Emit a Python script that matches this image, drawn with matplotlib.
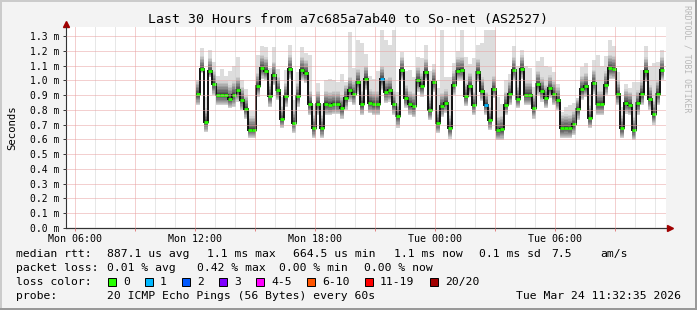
import matplotlib
matplotlib.use('Agg')
import matplotlib.pyplot as plt
from matplotlib.patches import Rectangle
import numpy as np

plt.rcParams['font.family'] = 'DejaVu Sans Mono'

W, H = 697, 310

# time axis in hours since Mon 00:00
x_lo = 5 + 32.6 / 60
x_hi = x_lo + 30
start_h = 12.04
step_h = 0.2

# median rtt per 12 min step (ms)
median = [0.907, 1.076, 0.72, 1.062, 0.976, 0.902, 0.902, 0.902, 0.875, 0.902,
          0.934, 0.866, 0.807, 0.665, 0.665, 0.96, 1.083, 1.065, 0.893, 1.037,
          0.934, 0.737, 0.893, 1.078, 0.712, 0.893, 1.07, 1.05, 0.84, 0.676,
          0.84, 0.676, 0.84, 0.832, 0.84, 0.84, 0.81, 0.88, 0.934, 0.907,
          0.988, 0.839, 1.01, 0.848, 0.839, 0.839, 1.008, 0.922, 0.934, 0.839,
          0.758, 1.07, 0.88, 0.839, 0.825, 1.0, 0.96, 1.055, 0.798, 0.988,
          0.712, 0.825, 0.848, 0.676, 0.97, 1.065, 1.07, 0.893, 0.96, 0.834,
          1.055, 0.93, 0.834, 0.73, 0.94, 0.663, 0.67, 0.834, 0.909, 1.07,
          0.875, 1.078, 0.902, 0.902, 0.812, 0.974, 0.93, 0.88, 0.945, 0.907,
          0.866, 0.676, 0.68, 0.676, 0.703, 0.805, 0.94, 0.96, 0.744, 0.983,
          0.84, 0.84, 0.97, 1.083, 1.076, 0.907, 0.676, 0.848, 0.834, 0.663,
          0.843, 0.909, 1.065, 0.875, 0.77, 0.909, 1.07]

# top of the smoke (slowest ping) per step
smoke_hi = [1.0, 1.216, 0.89, 1.205, 1.125, 1.03, 1.074, 1.03, 1.06, 1.096,
            1.16, 1.0, 0.94, 0.79, 0.79, 1.17, 1.23, 1.227, 1.08, 1.227,
            1.074, 0.89, 1.07, 1.24, 0.866, 1.058, 1.227, 1.186, 1.17, 0.84,
            0.98, 0.84, 1.0, 1.006, 1.0, 0.99, 1.04, 0.99, 1.33, 1.08,
            1.27, 1.25, 1.18, 1.03, 1.01, 1.06, 1.34, 1.27, 1.24, 1.34,
            0.92, 1.19, 1.06, 1.07, 1.02, 1.16, 1.15, 1.24, 1.06, 1.11,
            0.945, 1.34, 1.02, 1.02, 1.12, 1.2, 1.34, 1.16, 1.11, 1.15,
            1.24, 1.25, 1.34, 1.34, 1.34, 0.89, 0.84, 1.0, 1.045, 1.23,
            1.1, 1.205, 1.1, 1.08, 0.956, 1.13, 1.155, 1.1, 1.087, 1.058,
            0.978, 0.787, 0.82, 0.832, 0.843, 0.877, 1.09, 1.115, 0.91, 1.137,
            1.17, 1.1, 1.164, 1.27, 1.23, 1.058, 0.82, 0.978, 0.945, 0.99,
            0.99, 1.07, 1.23, 1.1, 1.115, 1.125, 1.205]

# bottom of the smoke (fastest ping) per step
smoke_lo = [0.83, 1.05, 0.65, 1.02, 0.9, 0.83, 0.83, 0.83, 0.81, 0.82,
            0.855, 0.80, 0.74, 0.61, 0.61, 0.89, 1.01, 1.0, 0.82, 0.97,
            0.866, 0.675, 0.82, 1.01, 0.645, 0.82, 1.0, 0.98, 0.765, 0.61,
            0.765, 0.61, 0.765, 0.765, 0.77, 0.77, 0.74, 0.80, 0.855, 0.83,
            0.91, 0.765, 0.934, 0.776, 0.765, 0.765, 0.934, 0.843, 0.855, 0.765,
            0.68, 1.0, 0.81, 0.765, 0.75, 0.92, 0.89, 1.0, 0.73, 0.92,
            0.64, 0.75, 0.776, 0.605, 0.90, 1.0, 1.0, 0.825, 0.89, 0.765,
            0.99, 0.86, 0.765, 0.665, 0.88, 0.595, 0.595, 0.765, 0.83, 1.0,
            0.81, 1.01, 0.83, 0.83, 0.74, 0.9, 0.855, 0.81, 0.877, 0.83,
            0.80, 0.606, 0.606, 0.606, 0.63, 0.73, 0.866, 0.89, 0.674, 0.91,
            0.765, 0.765, 0.9, 1.01, 1.01, 0.83, 0.606, 0.775, 0.765, 0.595,
            0.765, 0.83, 0.99, 0.8, 0.7, 0.83, 1.0]

# steps that lost one ping (0-based)
lossy_steps = [46, 72]

y_ticks = [0.0, 0.1, 0.2, 0.3, 0.4, 0.5, 0.6, 0.7, 0.8, 0.9, 1.0, 1.1, 1.2, 1.3]
x_label_pos = [6, 12, 18, 24, 30]
x_labels = ['Mon 06:00', 'Mon 12:00', 'Mon 18:00', 'Tue 00:00', 'Tue 06:00']

loss_names = ['0', '1', '2', '3', '4-5', '6-10', '11-19', '20/20']
loss_colors = ['#26ff00', '#00b8ff', '#0059ff', '#7e00ff', '#ff00fe',
               '#ff5500', '#ff0000', '#a10000']

med = np.array(median)
hi = np.array(smoke_hi)
lo = np.array(smoke_lo)
n = len(med)
edges = start_h + step_h * np.arange(n + 1)

fig = plt.figure(figsize=(W / 100, H / 100), dpi=100, facecolor='#f3f3f3')
ax = fig.add_axes([66 / W, 1 - 228 / H, 600 / W, 201 / H])
ax.set_facecolor('white')
ax.set_xlim(x_lo, x_hi)
ax.set_ylim(0, (228 - 27) / 147.7)


def ext(a):
    return np.append(a, a[-1])


# smoke: light outer band, then a darker gradient towards the median
ax.fill_between(edges, ext(lo), ext(hi), step='post', color='#dddddd', lw=0)
up = np.minimum(hi - med, 0.09)
down = med - lo
levels = 9
for j in range(levels):
    f = 1 - j / levels
    g = int(0xd0 - (0xd0 - 0x48) * j / (levels - 1))
    ax.fill_between(edges, ext(med - down * f), ext(med + up * f), step='post',
                    color='#%02x%02x%02x' % (g, g, g), lw=0)

ax.stairs(med, edges, baseline=None, color='#111111', lw=1.4)
seg_colors = [loss_colors[1] if i in lossy_steps else loss_colors[0] for i in range(n)]
ax.hlines(med, edges[:-1], edges[1:], colors=seg_colors, lw=2.0)

# grid, drawn on top like rrdtool
ax.set_axisbelow(False)
major_x = np.arange(6, 34, 3)
minor_x = [h for h in range(6, 36) if h % 3 != 0]
ax.set_xticks(major_x)
ax.set_xticklabels([x_labels[x_label_pos.index(h)] if h in x_label_pos else '' for h in major_x])
ax.set_xticks(minor_x, minor=True)
ax.set_yticks(y_ticks)
ax.set_yticklabels(['%.1f m' % v for v in y_ticks])
dots = (0, (1, 1))
ax.grid(which='major', color='#e8a0a0', linestyle=dots, lw=0.72)
ax.grid(which='minor', axis='x', color='#d0d0d0', linestyle=dots, lw=0.72)
ax.tick_params(axis='y', length=2, width=0.7, color='#333333', labelsize=7, pad=3)
ax.tick_params(axis='x', which='major', length=2, width=0.7, color='#e08080', labelsize=7.2, pad=2.5)
ax.tick_params(axis='x', which='minor', length=0)

for s in ['top', 'right']:
    ax.spines[s].set_visible(False)
for s in ['left', 'bottom']:
    ax.spines[s].set_color('#333333')
    ax.spines[s].set_linewidth(0.8)

# axis arrows
ax.plot([x_lo], [(228 - 24) / 147.7], marker='^', ms=4.5, color='#a00000', clip_on=False)
ax.plot([x_lo, x_lo + 30.2], [0, 0], color='#333333', lw=0.8, clip_on=False)
ax.plot([x_lo + 30.2], [0], marker='>', ms=4.5, color='#a00000', clip_on=False)


def px(x, y):
    return x / W, 1 - y / H


fig.text(*px(348, 19), 'Last 30 Hours from a7c685a7ab40 to So-net (AS2527)',
         ha='center', va='center', fontsize=9.5)
fig.text(*px(12, 128), 'Seconds', rotation=90, ha='center', va='center', fontsize=7.7)
fig.text(*px(687, 5), 'RRDTOOL / TOBI OETIKER', rotation=270, ha='center', va='top',
         fontsize=5.9, color='#b8b8b8')

fs = 8.2
rows = [
    (254, [(16, 'median rtt:'), (107, '887.1 us avg'), (207, '1.1 ms max'),
           (293, '664.5 us min'), (394, '1.1 ms now'), (479, '0.1 ms sd'),
           (551, '7.5'), (600, 'am/s')]),
    (268, [(16, 'packet loss:'), (107, '0.01 % avg'), (197, '0.42 % max'),
           (279, '0.00 % min'), (364, '0.00 % now')]),
    (296, [(16, 'probe:'), (107, '20 ICMP Echo Pings (56 Bytes) every 60s')]),
]
for y, items in rows:
    for x, s in items:
        fig.text(*px(x, y), s, ha='left', va='center', fontsize=fs)
fig.text(*px(681, 296), 'Tue Mar 24 11:32:35 2026', ha='right', va='center', fontsize=fs)

fig.text(*px(16, 282), 'loss color:', ha='left', va='center', fontsize=fs)
box_x = [108, 145, 182, 219, 256, 307, 365, 430]
for bx, name, c in zip(box_x, loss_names, loss_colors):
    fig.add_artist(Rectangle(px(bx, 286), 8 / W, 8 / H, transform=fig.transFigure,
                             facecolor=c, edgecolor='black', lw=0.7))
    fig.text(*px(bx + 15, 282), name, ha='left', va='center', fontsize=fs)

# frame
fig.add_artist(Rectangle((0, 1 - 2 / H), 1, 2 / H, transform=fig.transFigure, color='#cbcbcb', lw=0))
fig.add_artist(Rectangle((0, 0), 2 / W, 1, transform=fig.transFigure, color='#cbcbcb', lw=0))
fig.add_artist(Rectangle((1 - 2 / W, 0), 2 / W, 1, transform=fig.transFigure, color='#999999', lw=0))
fig.add_artist(Rectangle((0, 0), 1, 2 / H, transform=fig.transFigure, color='#999999', lw=0))

fig.savefig('out.png', dpi=100, facecolor=fig.get_facecolor())
